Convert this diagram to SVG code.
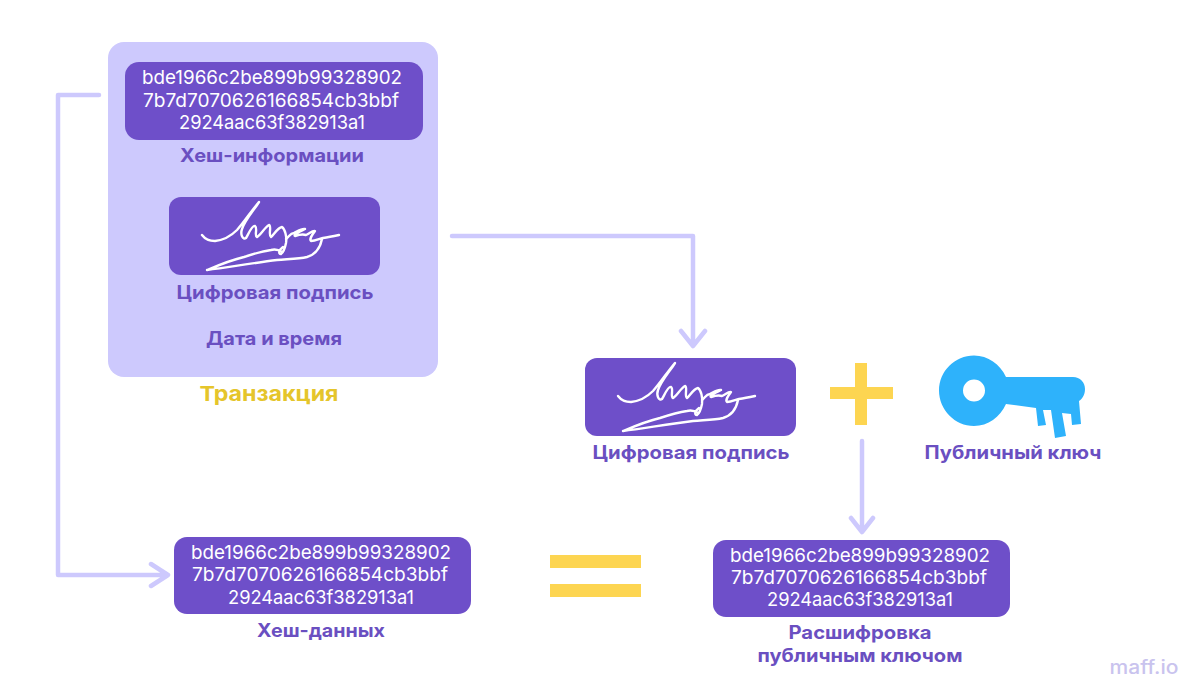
<svg xmlns="http://www.w3.org/2000/svg" width="1200" height="696" viewBox="0 0 1200 696">
<style>
text{font-family:Inter,"Noto Sans","Liberation Sans",sans-serif;text-anchor:middle}
.h{font-size:19px;fill:#fff;font-weight:400}
.l{font-size:18.500px;font-weight:700;fill:#6a4fc1}
.box{fill:#6e4fc9}
.c{fill:none;stroke:#cdc9fd;stroke-width:4.500;stroke-linecap:round;stroke-linejoin:round}
.sig{fill:none;stroke:#fff;stroke-width:2.400;stroke-linecap:round;stroke-linejoin:round}
</style>
<defs>
<g id="sg">
<path class="sig" d="M33 38C36 42 40 44 46 44C55 43 62 39 68 33C76 24 83 13 90 5C85 13 76 23 73 32C71 38 74 43 77 41C79 38 83 28 86 29C89 31 85 39 88 40C91 39 96 30 100 28C103 29 99 38 102 40C105 38 108 31 113 30C116 32 118 40 117 46C116 51 115 55 112 57C109 57 110 53 114 50"/>
<path class="sig" d="M117 42C120 40 121 36 125 36C129 34 133 31 136 32C130 35 124 38 126 39C129 38 134 37 137 38C141 36 144 33 146 34C143 38 140 42 142 44C146 44 150 42 154 41C160 40 165 39 170 38"/>
<path class="sig" d="M38 73C50 68 62 63 75 60C87 56 95 54 102 53C106 52 110 53 113 55M38 73C60 70 85 66 108 63C120 62 130 62 138 60C145 58 151 52 153 42"/>
</g>
</defs>
<rect id="bg" width="1200" height="696" fill="#fff"/>
<g id="connectors">
<path class="c" d="M99 95H58V575H166M151 564L168 575L151 586"/>
<path class="c" d="M452 236H693V345M681 331L693 346L705 331"/>
<path class="c" d="M862 441V531M851 518L862 532L873 518"/>
</g>
<g id="transaction">
<rect x="108" y="42" width="330" height="335" rx="16" fill="#cdc9fd"/>
<text x="269" y="401" style="font-size:20.500px;font-weight:700;fill:#e5c52b" textLength="139" lengthAdjust="spacingAndGlyphs">Транзакция</text>
</g>
<g id="hash-info">
<rect class="box" x="125" y="62" width="298" height="78" rx="14"/>
<text class="h" x="272" y="84" textLength="260" lengthAdjust="spacingAndGlyphs">bde1966c2be899b99328902</text>
<text class="h" x="271" y="107" textLength="256" lengthAdjust="spacingAndGlyphs">7b7d7070626166854cb3bbf</text>
<text class="h" x="272" y="129" textLength="186" lengthAdjust="spacingAndGlyphs">2924aac63f382913a1</text>
<text class="l" x="272" y="162" textLength="184" lengthAdjust="spacingAndGlyphs">Хеш-информации</text>
</g>
<g id="signature-a">
<rect class="box" x="169" y="197" width="211" height="78" rx="12"/>
<use href="#sg" x="169" y="197"/>
<text class="l" x="275" y="299" textLength="197" lengthAdjust="spacingAndGlyphs">Цифровая подпись</text>
</g>
<g id="datetime">
<text class="l" x="274" y="345" textLength="136" lengthAdjust="spacingAndGlyphs">Дата и время</text>
</g>
<g id="signature-b">
<rect class="box" x="585" y="358" width="211" height="78" rx="12"/>
<use href="#sg" x="585" y="358"/>
<text class="l" x="691" y="459" textLength="197" lengthAdjust="spacingAndGlyphs">Цифровая подпись</text>
</g>
<g id="plus">
<path d="M855 363H867V387H893V399H867V425H855V399H830V387H855Z" fill="#fdd551"/>
</g>
<g id="key">
<path fill="#2eb2fb" fill-rule="evenodd" d="M974 355.500C988 355.500 1000 364 1006 377H1073C1080 377 1085 382 1085 389C1085 395 1082 399 1079 401L1081 424L1072 425L1071 414L1062 413L1066 436L1055 438L1051 410L1043 410L1046 425L1038 426L1036 408L1006 404C1000 417 988 426 974 426C955 426 939 410 939 390.500C939 371 955 355.500 974 355.500ZM974 379.500A11 11 0 1 0 974.010 401.500A11 11 0 1 0 974 379.500Z"/>
<text class="l" x="1013" y="459" textLength="177" lengthAdjust="spacingAndGlyphs">Публичный ключ</text>
</g>
<g id="hash-data">
<rect class="box" x="174" y="537" width="297" height="77" rx="13"/>
<text class="h" x="321" y="559" textLength="260" lengthAdjust="spacingAndGlyphs">bde1966c2be899b99328902</text>
<text class="h" x="320" y="581" textLength="256" lengthAdjust="spacingAndGlyphs">7b7d7070626166854cb3bbf</text>
<text class="h" x="321" y="604" textLength="186" lengthAdjust="spacingAndGlyphs">2924aac63f382913a1</text>
<text class="l" x="321" y="637" textLength="128" lengthAdjust="spacingAndGlyphs">Хеш-данных</text>
</g>
<g id="equals">
<rect x="550" y="555" width="91" height="13" fill="#fdd551"/>
<rect x="550" y="584" width="91" height="13" fill="#fdd551"/>
</g>
<g id="decrypted">
<rect class="box" x="713" y="540" width="297" height="77" rx="13"/>
<text class="h" x="860" y="562" textLength="260" lengthAdjust="spacingAndGlyphs">bde1966c2be899b99328902</text>
<text class="h" x="859" y="584" textLength="256" lengthAdjust="spacingAndGlyphs">7b7d7070626166854cb3bbf</text>
<text class="h" x="860" y="606" textLength="186" lengthAdjust="spacingAndGlyphs">2924aac63f382913a1</text>
<text class="l" x="860" y="639" textLength="143" lengthAdjust="spacingAndGlyphs">Расшифровка</text>
<text class="l" x="860" y="662" textLength="205" lengthAdjust="spacingAndGlyphs">публичным ключом</text>
</g>
<text x="1144" y="674" style="font-size:18.500px;font-weight:500;fill:#c9c3ee" textLength="69" lengthAdjust="spacingAndGlyphs">maff.io</text>
</svg>
